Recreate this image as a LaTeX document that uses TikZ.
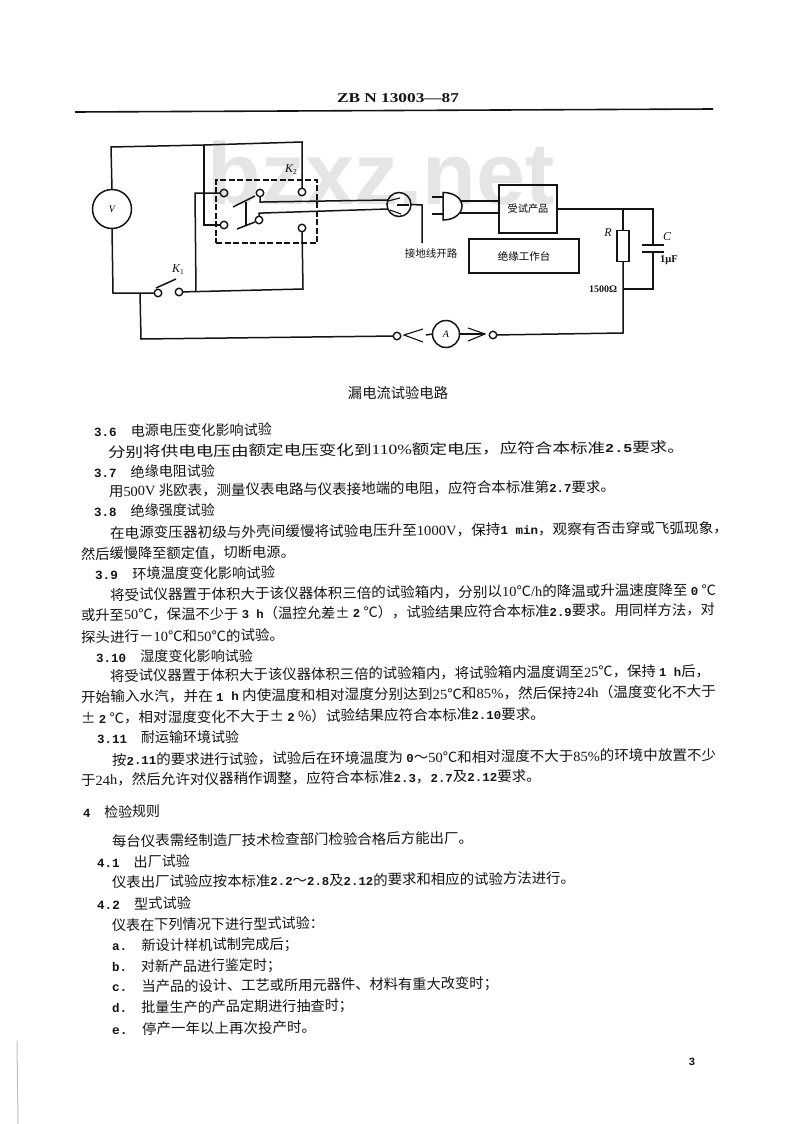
\documentclass[tikz,border=0pt]{standalone}
\usepackage{fontspec}
\usepackage{graphicx}
\setmainfont{Noto Sans CJK SC}
\newfontfamily\serfont{Liberation Serif}
\newfontfamily\monfont{Liberation Mono}
\newcommand{\sn}[1]{{\serfont #1}}
\newcommand{\mn}[1]{{\monfont\bfseries\fontsize{12}{13}\selectfont #1}}
\newcommand{\hn}[1]{{\monfont\bfseries\fontsize{12.5}{13}\selectfont #1}}
\definecolor{ink}{gray}{0.08}
\definecolor{wm}{gray}{0.90}
\newcommand{\tl}[5]{\node[txt] (#1) at (#2,#3) {\resizebox{#4pt}{\height}{\mbox{#5}}};}
\tikzset{
  x=1pt,y=-1pt,
  txt/.style={anchor=west,rotate=0.5,inner sep=0,outer sep=0,text=ink,font=\fontsize{14}{14}\selectfont},
  lab/.style={inner sep=0,outer sep=0,text=ink,font=\fontsize{10.5}{11}\selectfont},
  sym/.style={inner sep=0,outer sep=0,text=ink,font=\serfont\itshape\fontsize{12}{12}\selectfont},
  wire/.style={draw=ink,line width=1.5pt},
  thinwire/.style={draw=ink,line width=1.1pt},
  term/.style={circle,draw=ink,line width=1.4pt,minimum size=7.5pt,inner sep=0,outer sep=0},
  meter/.style={circle,draw=ink,line width=1.5pt,inner sep=0,outer sep=0},
  boxn/.style={draw=ink,line width=1.5pt,inner sep=0,outer sep=0},
  dashbox/.style={draw=ink,line width=1.4pt,dash pattern=on 6pt off 2.5pt,inner sep=0,outer sep=0}
}
\begin{document}
\begin{tikzpicture}[line cap=butt]
\useasboundingbox (0,0) rectangle (800,1124);
% watermark
\node[inner sep=0,text=wm,anchor=base,font=\fontspec{Liberation Sans}\bfseries\fontsize{88}{88}\selectfont] (mark) at (381,204) {bzxz.net};
% header
\node[inner sep=0,text=ink,font=\fontspec{Liberation Serif}\bfseries\fontsize{13.5}{14}\selectfont] (hdr) at (398,98) {\resizebox{122pt}{\height}{\mbox{ZB N 13003—87}}};
\coordinate (rl) at (75,112); \coordinate (rr) at (713,109);
\draw[draw=ink,line width=1.6pt] (rl) -- (rr);
% circuit nodes
\node[meter,minimum size=39pt] (V) at (112,209) {\serfont\itshape V};
\node[term] (t1) at (224,193) {};
\node[term] (t2) at (260,193) {};
\node[term] (t3) at (302,192) {};
\node[term] (t4) at (259,220) {};
\node[term] (t5) at (224,225) {};
\node[term] (t6) at (302,228) {};
\node[term] (k1a) at (158,293) {};
\node[term] (k1b) at (179,292) {};
\node[term] (tl) at (397,336) {};
\node[term] (tr) at (493,335) {};
\node[meter,minimum size=27pt] (A) at (446,334) {\serfont\itshape A};
\node[meter,minimum size=24pt] (sock) at (399,204.5) {};
\node[boxn,minimum width=58pt,minimum height=48pt] (prod) at (528,209) {\fontsize{10.2}{11}\selectfont 受试产品};
\node[boxn,minimum width=110pt,minimum height=34pt] (table) at (524,256) {\fontsize{10.5}{11}\selectfont 绝缘工作台};
\node[boxn,minimum width=12pt,minimum height=31pt] (R) at (623,246) {};
\node[dashbox,minimum width=101pt,minimum height=63pt] (K2) at (266.5,211.5) {};
% coordinates
\coordinate (vt) at (111,147); \coordinate (j1) at (204,145); \coordinate (tc) at (302,142);
\coordinate (j1b) at (204,225);
\coordinate (lw) at (195,193); \coordinate (lwb) at (196,292);
\coordinate (vb) at (113,293); \coordinate (j2) at (140,293); \coordinate (j2b) at (141,339);
\coordinate (rb) at (303,289);
\coordinate (b1a) at (233,207); \coordinate (b1b) at (255,196);
\coordinate (b2a) at (237,229); \coordinate (b2b) at (255,222);
\coordinate (lka) at (246,202); \coordinate (lkb) at (246,225);
\coordinate (w1a) at (263,202); \coordinate (w1b) at (388,200);
\coordinate (w2a) at (263,213); \coordinate (w2b) at (388,209);
\coordinate (g1) at (422,205); \coordinate (g2) at (422,243);
\coordinate (pa1) at (432,197); \coordinate (pa2) at (443,197);
\coordinate (pb1) at (432,214); \coordinate (pb2) at (443,214);
\coordinate (dt) at (443,192.5); \coordinate (db) at (443,220);
\coordinate (pw1) at (460,201); \coordinate (pw2) at (460,213);
\coordinate (j3) at (623,209); \coordinate (cr) at (653,209); \coordinate (cp1) at (653,245);
\coordinate (cp2) at (653,252); \coordinate (cb) at (653,289); \coordinate (j4) at (623,289);
\coordinate (rbot) at (623,333);
\coordinate (p1a) at (642,245); \coordinate (p1b) at (664,245);
\coordinate (p2a) at (642,252); \coordinate (p2b) at (664,252);
\coordinate (k1bl) at (156,288); \coordinate (k1bt) at (176,279);
\coordinate (al) at (404,335); \coordinate (al1) at (423,329); \coordinate (al2) at (423,342); \coordinate (al3) at (426,335);
\coordinate (ar) at (485,334); \coordinate (ar1) at (468,328); \coordinate (ar2) at (468,341);
% wiring
\draw[wire] (V.north) -- (vt) -- (j1) -- (tc) -- (t3);
\draw[wire] (j1) -- (j1b) -- (t5);
\draw[wire] (t1) -- (lw) -- (lwb);
\draw[wire] (V.south) -- (vb) -- (k1a);
\draw[wire] (j2) -- (j2b) -- (tl);
\draw[wire] (k1b) -- (rb) -- (t6);
\draw[wire] (b1a) -- (b1b);
\draw[wire] (b2a) -- (b2b);
\draw[thinwire] (lka) -- (lkb);
\draw[wire] (k1bl) -- (k1bt);
\draw[wire] (t2) |- (w1a) -- (w1b);
\draw[wire] (t4) |- (w2a) -- (w2b);
% socket
\draw[wire] (sock.east) -- (g1) -- (g2);
\coordinate (s1) at (388,201); \coordinate (s2) at (400,198);
\coordinate (s3) at (390,210); \coordinate (s4) at (401,214);
\coordinate (s5) at (397,205); \coordinate (s6) at (409,205);
\draw[thinwire] (s1) -- (s2);
\draw[thinwire] (s3) -- (s4);
\draw[thinwire] (s5) -- (s6);
% plug
\draw[wire] (pa1) -- (pa2); \draw[wire] (pb1) -- (pb2);
\draw[wire] (dt) .. controls (455,192.5) and (462,199) .. (462,206) .. controls (462,213) and (455,220) .. (db) -- cycle;
\draw[wire] (pw1) -- (prod.west |- pw1);
\draw[wire] (pw2) -- (prod.west |- pw2);
% RC
\draw[wire] (prod.east |- j3) -- (cr) -- (cp1);
\draw[wire] (j3) -- (R.north);
\draw[wire] (R.south) -- (rbot) -- (tr);
\draw[wire] (p1a) -- (p1b);
\draw[wire] (p2a) -- (p2b);
\draw[wire] (cp2) -- (cb) -- (j4);
% ammeter
\draw[thinwire] (al1) -- (al) -- (al2);
\draw[wire] (al3) -- (A.west);
\draw[thinwire] (ar1) -- (ar) -- (ar2);
\draw[wire] (A.east) -- (ar);
% labels
\node[sym] (lk2) at (291,170) {K\raisebox{-2pt}{\fontsize{7.5}{8}\selectfont\upshape 2}};
\node[sym] (lk1) at (178,270) {K\raisebox{-2pt}{\fontsize{7.5}{8}\selectfont\upshape 1}};
\node[lab] (lg) at (431,254) {接地线开路};
\node[sym] (lR) at (608,233) {R};
\node[sym] (lC) at (667,237) {C};
\node[inner sep=0,text=ink,font=\serfont\bfseries\fontsize{10.5}{11}\selectfont] (lf) at (669,260) {1μF};
\node[inner sep=0,text=ink,font=\serfont\bfseries\fontsize{10}{10}\selectfont] (lo) at (603,289) {1500Ω};
\node[inner sep=0,text=ink,font=\fontsize{14.3}{15}\selectfont] (cap) at (398,393) {漏电流试验电路};
% text
\tl{h36}{94}{431}{178}{\hn{3.6}\hspace{14pt}电源电压变化影响试验}
\tl{l1}{108}{452}{577}{分别将供电电压由额定电压变化到\sn{110\%}额定电压，应符合本标准\mn{2.5}要求。}
\tl{h37}{94}{472}{121}{\hn{3.7}\hspace{14pt}绝缘电阻试验}
\tl{l2}{109}{491}{506}{用\sn{500V} 兆欧表，测量仪表电路与仪表接地端的电阻，应符合本标准第\mn{2.7}要求。}
\tl{h38}{94}{511}{121}{\hn{3.8}\hspace{14pt}绝缘强度试验}
\tl{l3}{110}{533}{618}{在电源变压器初级与外壳间缓慢将试验电压升至\sn{1000V}，保持\mn{1 min}，观察有否击穿或飞弧现象，}
\tl{l4}{81}{554}{214}{然后缓慢降至额定值，切断电源。}
\tl{h39}{95}{574}{180}{\hn{3.9}\hspace{14pt}环境温度变化影响试验}
\tl{l5}{110}{595}{606}{将受试仪器置于体积大于该仪器体积三倍的试验箱内，分别以\sn{10}℃\sn{/h}的降温或升温速度降至 \mn{0} ℃}
\tl{l6}{81}{615}{634}{或升至\sn{50}℃，保温不少于 \mn{3 h}（温控允差± \mn{2} ℃），试验结果应符合本标准\mn{2.9}要求。用同样方法，对}
\tl{l7}{81}{637}{203}{探头进行－\sn{10}℃和\sn{50}℃的试验。}
\tl{h310}{96}{657}{157}{\hn{3.10}\hspace{14pt}湿度变化影响试验}
\tl{l8}{110}{676}{600}{将受试仪器置于体积大于该仪器体积三倍的试验箱内，将试验箱内温度调至\sn{25}℃，保持 \mn{1 h}后，}
\tl{l9}{81}{697}{635}{开始输入水汽，并在 \mn{1 h} 内使温度和相对湿度分别达到\sn{25}℃和\sn{85\%}，然后保持\sn{24h}（温度变化不大于}
\tl{l10}{81}{718}{464}{± \mn{2} ℃，相对湿度变化不大于± \mn{2} \%）试验结果应符合本标准\mn{2.10}要求。}
\tl{h311}{97}{738}{142}{\hn{3.11}\hspace{14pt}耐运输环境试验}
\tl{l11}{112}{760}{604}{按\mn{2.11}的要求进行试验，试验后在环境温度为 \mn{0}～\sn{50}℃和相对湿度不大于\sn{85\%}的环境中放置不少}
\tl{l12}{81}{780}{460}{于\sn{24h}，然后允许对仪器稍作调整，应符合本标准\mn{2.3}，\mn{2.7}及\mn{2.12}要求。}
\tl{h4}{83}{812}{77}{\hn{4}\hspace{14pt}检验规则}
\tl{l13}{112}{841}{361}{每台仪表需经制造厂技术检查部门检验合格后方能出厂。}
\tl{h41}{97}{862}{93}{\hn{4.1}\hspace{14pt}出厂试验}
\tl{l14}{112}{882}{463}{仪表出厂试验应按本标准\mn{2.2}～\mn{2.8}及\mn{2.12}的要求和相应的试验方法进行。}
\tl{h42}{97}{904}{94}{\hn{4.2}\hspace{14pt}型式试验}
\tl{l15}{112}{925}{212}{仪表在下列情况下进行型式试验：}
\tl{la}{112}{946}{186}{\hn{a.}\hspace{14pt}新设计样机试制完成后；}
\tl{lb}{112}{967}{169}{\hn{b.}\hspace{14pt}对新产品进行鉴定时；}
\tl{lc}{112}{987}{386}{\hn{c.}\hspace{14pt}当产品的设计、工艺或所用元器件、材料有重大改变时；}
\tl{ld}{112}{1008}{241}{\hn{d.}\hspace{14pt}批量生产的产品定期进行抽查时；}
\tl{le}{112}{1029}{204}{\hn{e.}\hspace{14pt}停产一年以上再次投产时。}
\node[inner sep=0,text=ink,font=\monfont\bfseries\fontsize{11}{11}\selectfont] (pg) at (692,1062) {3};
% scan marks
\coordinate (sm1) at (17,1041); \coordinate (sm2) at (18,1124);
\draw[draw=black!25,line width=1pt] (sm1) -- (sm2);
\end{tikzpicture}
\end{document}
